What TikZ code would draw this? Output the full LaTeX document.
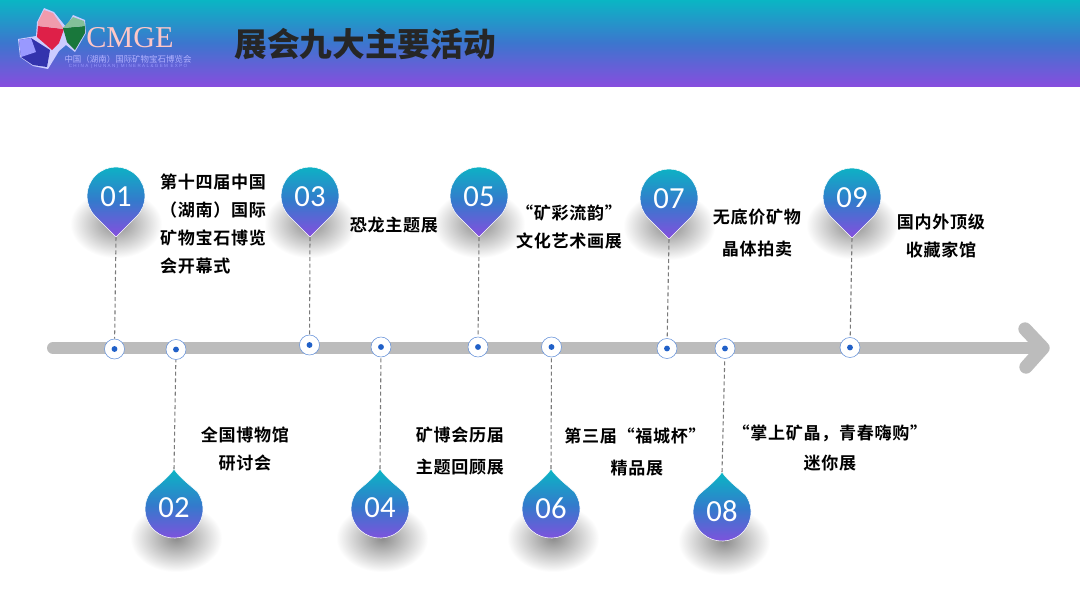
\documentclass[tikz,border=0pt]{standalone}
\usepackage{fontspec}
\setmainfont{Noto Sans CJK SC}[BoldFont={Noto Sans CJK SC Bold}]
\newfontfamily\numfont{Carlito}
\newfontfamily\logofont{Liberation Serif}
\newfontfamily\labelfont{Noto Sans CJK SC Bold}[LetterSpace=4]
\newfontfamily\titlefont{Noto Sans CJK SC Black}
\newfontfamily\logosmall{Liberation Sans}[LetterSpace=30]
\usepackage{tikz}
\usetikzlibrary{positioning,calc}
\definecolor{pinTop}{RGB}{10,182,196}
\definecolor{pinMid}{RGB}{52,122,204}
\definecolor{pinBot}{RGB}{134,78,222}
\definecolor{lineGray}{RGB}{188,188,188}
\definecolor{dotBlue}{RGB}{32,96,200}
\definecolor{gemRed}{RGB}{222,32,72}
\definecolor{gemGreen}{RGB}{30,140,70}
\tikzset{
	numtext/.style={text=white, font=\numfont\fontsize{23}{23}\selectfont, inner sep=0pt},
	dottext/.style={circle, draw=dotBlue!70, fill=white, line width=0.4pt, minimum size=15pt, inner sep=0pt, path picture={\fill[dotBlue] (path picture bounding box.center) circle (2.2pt);}},
	labeltext/.style={align=center, text=black, font=\labelfont\fontsize{12.8}{#1}\selectfont, inner sep=0pt},
	labeltext/.default=21,
	linkline/.style={densely dashed, line width=0.8pt, color=black!52},
	pinfill/.style={draw=white, line width=0.4pt, top color=pinTop, bottom color=pinBot, middle color=pinMid},
	pinshadow/.style={inner color=black!45, outer color=white},
}
% pin with the tip below: x, y of circle centre
\newcommand{\pindown}[3]{
	\shade[pinshadow] (#1, #2+28) ellipse (46 and 34);
	\path[pinfill] (#1, #2+41) -- (#1-20.5, #2+20.5)
		arc[start angle=135, end angle=405, radius=29] -- cycle;
	\coordinate (tip#3) at (#1, #2+41);
	\node[numtext] (num#3) at (#1, #2+1) {0#3};
}
% pin with the tip above
\newcommand{\pinup}[3]{
	\shade[pinshadow] (#1+2, #2+29) ellipse (46 and 34);
	\path[pinfill] (#1, #2-40) .. controls (#1+5, #2-32) and (#1+17, #2-23) .. (#1+23.5, #2-17)
		arc[start angle=-36, end angle=216, radius=29]
		.. controls (#1-17, #2-23) and (#1-5, #2-32) .. (#1, #2-40) -- cycle;
	\coordinate (tip#3) at (#1, #2-40);
	\node[numtext] (num#3) at (#1, #2-1) {0#3};
}
\begin{document}
\begin{tikzpicture}[x=0.75pt, y=-0.75pt]
	\useasboundingbox (0, 0) rectangle (1080, 607);
	\fill[white] (0, 0) rectangle (1080, 607);
	\shade[top color=pinTop, bottom color=pinBot, middle color=pinMid!90!pinBot] (0, 0) rectangle (1080, 86);

	% logo
	\fill[white!80!blue] (44, 8) -- (54, 12) -- (66, 27) -- (73, 15) -- (85, 20) -- (86, 33) -- (75, 52) -- (66, 45) -- (59, 51) -- (48, 69) -- (33, 66) -- (20, 57) -- (18, 39) -- (36, 36) -- (37, 22) -- cycle;
	\fill[blue!60!black!80!white] (19, 40) -- (31, 38) -- (50, 50) -- (47, 67) -- (33, 65) -- (21, 57) -- cycle;
	\fill[blue!40!white] (19, 40) -- (31, 38) -- (36, 52) -- (21, 57) -- cycle;
	\fill[gemRed] (38, 26) -- (64, 29) -- (59, 43) -- (52, 50) -- (37, 37) -- cycle;
	\fill[gemRed!45!white] (44, 10) -- (53, 13) -- (64, 29) -- (38, 26) -- (38, 22) -- cycle;
	\fill[gemGreen!85!black] (63, 28) -- (85, 26) -- (85, 33) -- (75, 50) -- (67, 42) -- cycle;
	\fill[gemGreen!55!white] (73, 17) -- (84, 21) -- (85, 26) -- (63, 28) -- cycle;
	\node[inner sep=0pt, text=white!78!red, font=\logofont\fontsize{22.7}{22.7}\selectfont] (logo) at (130, 38) {CMGE};
	\node[inner sep=0pt, text=white!70!blue, font=\fontsize{6.35}{6.35}\selectfont] (logosub) at (128, 59) {中国（湖南）国际矿物宝石博览会};
	\node[inner sep=0pt, text=white!60!blue, font=\logosmall\fontsize{3.4}{3.4}\selectfont] (logoeng) at (128, 66) {CHINA (HUNAN) MINERAL\&GEM EXPO};

	\node[inner sep=0pt, text=black!85, font=\titlefont\fontsize{24.5}{24.5}\selectfont] (title) at (365, 44) {展会九大主要活动};

	% timeline
	\coordinate (start) at (53, 348);
	\coordinate (head) at (1043, 348);
	\draw[lineGray, line width=9pt, line cap=round] (start) -- (head);
	\draw[lineGray, line width=10pt, line cap=round, line join=round] (1025, 329) -- (head) -- (1026, 367);

	\pindown{116}{196}{1}
	\pinup{174}{509}{2}
	\pindown{310}{196}{3}
	\pinup{380}{509}{4}
	\pindown{479}{196}{5}
	\pinup{551}{509}{6}
	\pindown{669}{198}{7}
	\pinup{722}{512}{8}
	\pindown{852}{197}{9}

	\node[dottext] (dot1) at (114.5, 349) {};
	\node[dottext] (dot2) at (176, 349.5) {};
	\node[dottext] (dot3) at (309.5, 345) {};
	\node[dottext] (dot4) at (381, 347) {};
	\node[dottext] (dot5) at (478, 347) {};
	\node[dottext] (dot6) at (551.5, 347) {};
	\node[dottext] (dot7) at (667, 348.5) {};
	\node[dottext] (dot8) at (725, 348.5) {};
	\node[dottext] (dot9) at (850, 347.5) {};

	\foreach \i in {1,...,9} {
		\draw[linkline] (tip\i) -- (dot\i);
	}

	\node[labeltext, align=left] (text1) at (213, 223.5) {第十四届中国\\（湖南）国际\\矿物宝石博览\\会开幕式};
	\node[labeltext] (text2) at (245, 449) {全国博物馆\\研讨会};
	\node[labeltext] (text3) at (394, 225) {恐龙主题展};
	\node[labeltext=24] (text4) at (460, 451.5) {矿博会历届\\主题回顾展};
	\node[labeltext] (text5) at (569, 227) {“矿彩流韵”\\文化艺术画展};
	\node[labeltext=24] (text6) at (635, 451.5) {第三届“福城杯”\\\hspace*{3pt}精品展};
	\node[labeltext=24] (text7) at (757, 233) {无底价矿物\\晶体拍卖};
	\node[labeltext=22.5] (text8) at (830, 447.5) {“掌上矿晶，青春嗨购”\\迷你展};
	\node[labeltext] (text9) at (941, 236) {国内外顶级\\收藏家馆};
\end{tikzpicture}
\end{document}
